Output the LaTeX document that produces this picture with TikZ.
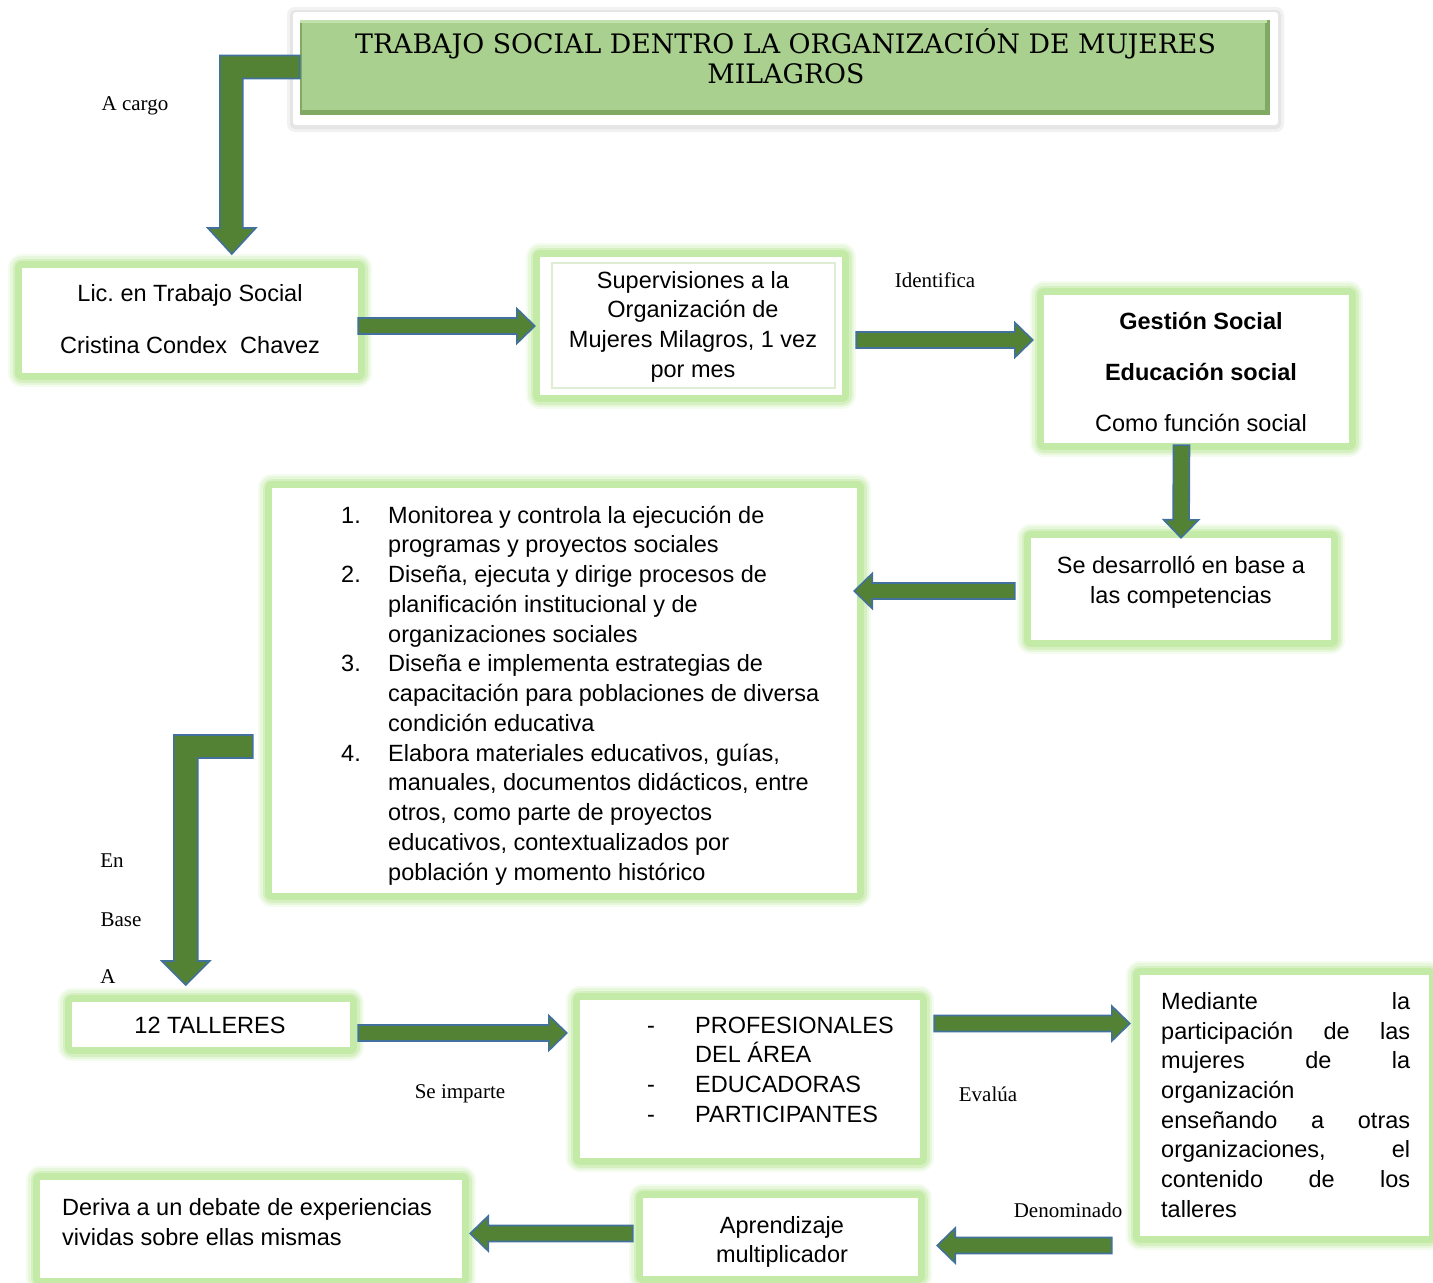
\documentclass[tikz,border=0pt]{standalone}
\usepackage{fontspec}
\setmainfont{Liberation Sans}
\newfontfamily\timesf{Liberation Serif}
\newfontfamily\titlef{DejaVu Serif}
\usetikzlibrary{calc}
\frenchspacing
\definecolor{glowc}{RGB}{196,234,168}
\definecolor{arrowfill}{RGB}{84,130,53}
\definecolor{arrowline}{RGB}{65,113,156}
\definecolor{titlefill}{RGB}{169,208,142}
\definecolor{titledark}{RGB}{128,170,100}
\definecolor{titlelight}{RGB}{194,226,172}
\definecolor{innerline}{RGB}{222,237,212}
\tikzset{
  glowbox/.style={fill=white, draw=none, inner sep=0pt,
    preaction={draw=glowc!18, line width=28pt, line join=round},
    preaction={draw=glowc!40, line width=24pt, line join=round},
    preaction={draw=glowc!70, line width=19pt, line join=round},
    preaction={draw=glowc, line width=14pt, line join=round}},
  body/.style={font=\fontsize{23.5}{29.7}\selectfont, inner sep=0pt},
  lbl/.style={font=\timesf\fontsize{21}{25}\selectfont, inner sep=0pt},
  blockpoly/.style={draw=arrowline, fill=arrowfill, line width=1.6pt, line join=miter},
  blockarrow/.style={blockpoly,
    to path={let \p1=(\tikztostart), \p2=(\tikztotarget),
      \n1={veclen(\x2-\x1,\y2-\y1)}, \n2={(\x2-\x1)/\n1}, \n3={(\y2-\y1)/\n1} in
      ({\x1-\n3*8},{\y1+\n2*8})
      -- ({\x2-\n2*18-\n3*8},{\y2-\n3*18+\n2*8})
      -- ({\x2-\n2*18-\n3*17.5},{\y2-\n3*18+\n2*17.5})
      -- (\x2,\y2)
      -- ({\x2-\n2*18+\n3*17.5},{\y2-\n3*18-\n2*17.5})
      -- ({\x2-\n2*18+\n3*8},{\y2-\n3*18-\n2*8})
      -- ({\x1+\n3*8},{\y1-\n2*8}) -- cycle}}
}
\begin{document}
\begin{tikzpicture}[x=1pt,y=-1pt]
\useasboundingbox (0,0) rectangle (1433,1283);
\fill[white] (0,0) rectangle (1433,1283);

% title panel with shadow
\fill[black!5, rounded corners=8pt] (287,7) rectangle (1284,132);
\fill[black!10, rounded corners=5pt] (290,10) rectangle (1281,129);
\fill[white, rounded corners=3pt] (293,12) rectangle (1278,125);
\node[fill=titledark, draw=none, minimum width=970pt, minimum height=95pt, inner sep=0pt] (title) at (785,67.5) {};
\fill[titlelight] (300,20) rectangle (1267,23);
\fill[titlefill] (302,23) rectangle (1265,110);
\node[font=\titlef\fontsize{26.8}{30}\selectfont, inner sep=0pt, anchor=base] (title1) at (785.5,53) {TRABAJO SOCIAL DENTRO LA ORGANIZACIÓN DE MUJERES};
\node[font=\titlef\fontsize{26.8}{30}\selectfont, inner sep=0pt, anchor=base] (title2) at (786,83) {MILAGROS};

% boxes
\node[glowbox, minimum width=336pt, minimum height=105pt] (lic) at (190,320.5) {};
\node[glowbox, minimum width=302pt, minimum height=138pt] (sup) at (691,326) {};
\draw[innerline, line width=1.5pt] ($(sup.north west)+(12,6)$) rectangle ($(sup.south east)+(-7,-7)$);
\node[glowbox, minimum width=305pt, minimum height=148pt] (ges) at (1196.5,369) {};
\node[glowbox, minimum width=300pt, minimum height=102pt] (sed) at (1181,589) {};
\node[glowbox, minimum width=585pt, minimum height=405pt] (list) at (564.5,690.5) {};
\node[glowbox, minimum width=278pt, minimum height=45pt] (tal) at (211,1024.5) {};
\node[glowbox, minimum width=340pt, minimum height=158pt] (prof) at (750,1079) {};
\node[glowbox, minimum width=289pt, minimum height=261pt] (med) at (1284.5,1105.5) {};
\node[glowbox, minimum width=275pt, minimum height=78pt] (apr) at (780.5,1237) {};
\node[glowbox, minimum width=422pt, minimum height=98pt] (der) at (251,1229) {};

% texts
\node[body, font=\fontsize{23.5}{52}\selectfont, align=center] (lictxt) at (190,319) {Lic. en Trabajo Social\\Cristina Condex\ \ Chavez};
\node[body, align=center] (suptxt) at (693,326.5) {Supervisiones a la\\Organización de\\Mujeres Milagros, 1 vez\\por mes};
\node[body, font=\fontsize{23.5}{51}\selectfont, align=center] (gestxt) at (1201,372) {\textbf{Gestión Social}\\\textbf{Educación social}\\Como función social};
\node[body, align=center] (sedtxt) at (1181,582) {Se desarrolló en base a\\las competencias};
\node[body, font=\fontsize{23.5}{29.75}\selectfont, align=left, anchor=west] (listtxt) at (341,695.5) {%
\makebox[47pt][l]{1.}Monitorea y controla la ejecución de\\
\hspace*{47pt}programas y proyectos sociales\\
\makebox[47pt][l]{2.}Diseña, ejecuta y dirige procesos de\\
\hspace*{47pt}planificación institucional y de\\
\hspace*{47pt}organizaciones sociales\\
\makebox[47pt][l]{3.}Diseña e implementa estrategias de\\
\hspace*{47pt}capacitación para poblaciones de diversa\\
\hspace*{47pt}condición educativa\\
\makebox[47pt][l]{4.}Elabora materiales educativos, guías,\\
\hspace*{47pt}manuales, documentos didácticos, entre\\
\hspace*{47pt}otros, como parte de proyectos\\
\hspace*{47pt}educativos, contextualizados por\\
\hspace*{47pt}población y momento histórico};
\node[body] (taltxt) at (210,1025) {12 TALLERES};
\node[body, align=left, anchor=west] (proftxt) at (647,1069.5) {%
\makebox[48pt][l]{-}PROFESIONALES\\
\hspace*{48pt}DEL ÁREA\\
\makebox[48pt][l]{-}EDUCADORAS\\
\makebox[48pt][l]{-}PARTICIPANTES};
\node[body, align=left, anchor=west] (medtxt) at (1161,1105) {%
\makebox[249pt][s]{Mediante la}\\
\makebox[249pt][s]{participación de las}\\
\makebox[249pt][s]{mujeres de la}\\
organización\\
\makebox[249pt][s]{enseñando a otras}\\
\makebox[249pt][s]{organizaciones, el}\\
\makebox[249pt][s]{contenido de los}\\
talleres};
\node[body, align=center] (aprtxt) at (782,1242) {Aprendizaje\\multiplicador};
\node[body, align=left, anchor=west] (dertxt) at (62,1222) {Deriva a un debate de experiencias\\vividas sobre ellas mismas};

% labels
\node[lbl] (lcargo) at (135,106) {A cargo};
\node[lbl] (lident) at (935,280) {Identifica};
\node[lbl] (len) at (112,861) {En};
\node[lbl] (lbase) at (121,920) {Base};
\node[lbl] (la) at (108,977) {A};
\node[lbl] (limp) at (460,1094) {Se imparte};
\node[lbl] (leval) at (988,1094) {Evalúa};
\node[lbl] (lden) at (1068,1210) {Denominado};

% elbow connectors
\draw[blockpoly] ($(title.west)+(0,-12)$) -- ++(-80,0) -- ++(0,172.5) -- ++(-12,0) -- ++(24,26) -- ++(24,-26) -- ++(-13,0) -- ++(0,-149.5) -- ++(57,0) -- cycle;
\draw[blockpoly] ($(list.west)+(-19,44.5)$) -- ++(-79,0) -- ++(0,226) -- ++(-12,0) -- ++(24,24) -- ++(24,-24) -- ++(-12,0) -- ++(0,-203) -- ++(55,0) -- cycle;

% straight connectors
\draw[blockarrow] ($(lic.east)+(0,5.5)$) to ($(sup.west)+(-5,0)$);
\draw[blockarrow] ($(sup.east)+(14,14)$) to ($(ges.west)+(-11,-29)$);
\draw[blockarrow] ($(ges.south)+(-15,2)$) to ($(sed.north)+(0,0)$);
\draw[blockarrow] ($(sed.west)+(-16,2)$) to ($(list.east)+(-3,-99.5)$);
\draw[blockarrow] ($(tal.east)+(8,8.5)$) to ($(prof.west)+(-13,-46)$);
\draw[blockarrow] ($(prof.east)+(14,-55.5)$) to ($(med.west)+(-10,-82)$);
\draw[blockarrow] ($(med.west)+(-28,140)$) to ($(apr.east)+(19,8.5)$);
\draw[blockarrow] ($(apr.west)+(-10,-3.5)$) to ($(der.east)+(8,4.5)$);
\end{tikzpicture}
\end{document}
